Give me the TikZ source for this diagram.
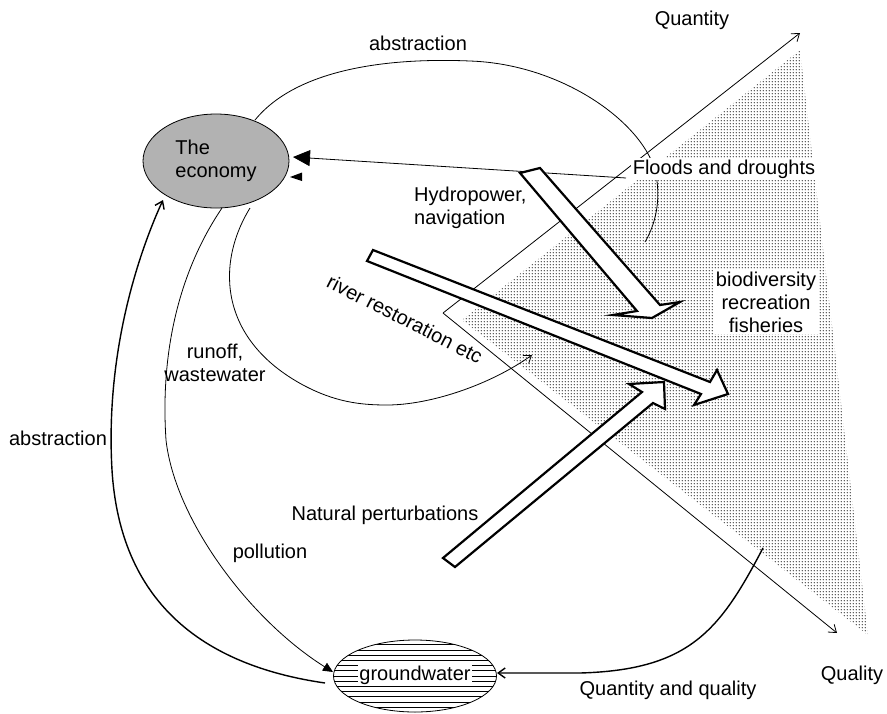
\documentclass[tikz,border=0pt]{standalone}
\usepackage{fontspec}
\setmainfont{Liberation Sans}
\usetikzlibrary{shapes.geometric,patterns,patterns.meta,arrows.meta}
\tikzdeclarepattern{
  name=stip,
  type=uncolored,
  bounding box={(-1.6pt,-1.6pt) and (1.6pt,1.6pt)},
  tile size={(3.2pt,3.2pt)},
  code={\fill (0pt,0pt) circle (0.85pt);}
}
\begin{document}
\begin{tikzpicture}[x=1pt,y=-1pt,
  lbl/.style={font=\fontsize{20}{23}\selectfont, inner sep=1pt},
  wlbl/.style={lbl, fill=white, inner sep=2pt},
  thin/.style={line width=0.8pt},
  thick2/.style={line width=1.4pt},
  blockarrow/.style={draw, fill=white, line width=2.2pt, line join=miter},
  barb/.style={-{Straight Barb[length=7pt,width=10pt]}},
  gwell/.style={ellipse, draw, line width=0.8pt, minimum width=163, minimum height=72, inner sep=0pt,
    path picture={\foreach \k in {-7,...,7}{\draw[line width=1pt] ([yshift=\k*5.2pt]path picture bounding box.west) -- ([yshift=\k*5.2pt]path picture bounding box.east);}}}
]
\useasboundingbox (0,0) rectangle (887,713);

% stippled region
\fill[pattern=stip, pattern color=black!85] (800,50) -- (462,320) -- (868,635) -- cycle;

% axes
\coordinate (O) at (443,313);
\coordinate (Qn) at (800,33);
\coordinate (Ql) at (837,633);
\draw[thin, barb] (O) -- (Qn);
\draw[thin, barb] (O) -- (Ql);

% nodes
\node[ellipse, draw, fill=black!30, line width=0.8pt, minimum width=146, minimum height=94, align=left, lbl] (econ) at (216,161) {The\\economy};
\node[gwell] (gw) at (415,676) {};

% named connector ends
\coordinate (e1) at (255,120);
\coordinate (fd) at (626,178);
\coordinate (e2) at (293,157);
\coordinate (e3) at (250,208);
\coordinate (rr) at (532,355);
\coordinate (e4) at (222,208);
\coordinate (g1) at (333,672);
\coordinate (g2) at (325,683);
\coordinate (e5) at (163,200);
\coordinate (st) at (763,548);
\coordinate (g3) at (497,673);
\coordinate (ab) at (645,242);

% top abstraction arc
\draw[thin] (e1) .. controls (300,65) and (400,58) .. (470,61)
  .. controls (560,64) and (640,120) .. (655,170)
  .. controls (662,200) and (655,225) .. (ab);

% floods line to economy
\draw[thin, -{Triangle[length=17pt,width=16pt]}] (fd) -- (e2);
% small arrowhead
\fill (290,177) -- (302,172.5) -- (302,181) -- cycle;

% river restoration curve
\draw[thin, barb] (e3) .. controls (215,265) and (220,340) .. (303,385)
  .. controls (335,402) and (360,405) .. (387,405)
  .. controls (430,405) and (490,385) .. (rr);

% runoff / pollution curve
\draw[thin, -{Triangle[length=10pt,width=9pt]}] (e4) .. controls (180,270) and (160,350) .. (166,440)
  .. controls (175,520) and (250,620) .. (g1);

% left abstraction
\draw[thick2, barb] (g2) .. controls (200,665) and (120,600) .. (112,470)
  .. controls (105,350) and (140,250) .. (e5);

% quantity and quality
\draw[thick2, barb] (st) .. controls (720,630) and (690,670) .. (580,673) -- (g3);

% block arrows
\draw[blockarrow] (520,173) -- (540,168) -- (660,305) -- (680,302) -- (652,318) -- (613,315) -- (637,311) -- cycle;
\draw[blockarrow] (367,261) -- (373,250) -- (710,382) -- (717,370) -- (728,394) -- (694,405) -- (701,394) -- cycle;
\draw[blockarrow] (443,558) -- (455,567) -- (653,403) -- (665,409) -- (664,382) -- (629,384) -- (642,392) -- cycle;

% labels
\node[lbl] (tabs) at (418,43) {abstraction};
\node[lbl] (tqn) at (692,20) {Quantity};
\node[wlbl] (tfd) at (724,169) {Floods and droughts};
\node[lbl, align=left, anchor=west] (thp) at (413,208) {Hydropower,\\navigation};
\node[wlbl, align=center] (tbio) at (766,302) {biodiversity\\recreation\\fisheries};
\node[lbl, rotate=-27] (trr) at (405,319) {river restoration etc};
\node[lbl, align=center] (tro) at (215,363) {runoff,\\wastewater};
\node[lbl] (tlab) at (58,438) {abstraction};
\node[lbl] (tpol) at (270,553) {pollution};
\node[lbl] (tnp) at (385,515) {Natural perturbations};
\node[fill=white, inner sep=2pt, lbl] (tgw) at (415,675) {groundwater};
\node[lbl] (tqq) at (668,690) {Quantity and quality};
\node[lbl] (tql) at (852,675) {Quality};
\end{tikzpicture}
\end{document}
